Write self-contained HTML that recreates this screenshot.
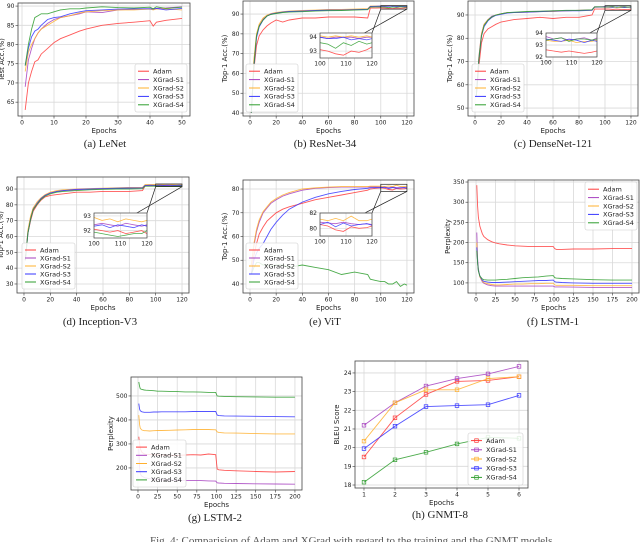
<!DOCTYPE html>
<html><head><meta charset="utf-8"><style>
html,body{margin:0;padding:0;background:#fff;width:640px;height:542px;overflow:hidden}
svg{display:block}
text{font-family:"DejaVu Sans","Liberation Sans",sans-serif}
.cap{font-family:"Liberation Serif",serif;font-size:11px}
</style></head><body>
<svg id="fig" width="640" height="542" xmlns="http://www.w3.org/2000/svg"></svg>
<script>
const seriesNames=["Adam","XGrad-S1","XGrad-S2","XGrad-S3","XGrad-S4"];
const colors=["#ff3b3b","#a63fbf","#ffb02e","#3535ff","#2e9e2e"];
// LeNet
const epochsA=[1,2,3,4,5,6,8,10,12,15,18,20,25,30,35,40,41,42,45,50];
const adamA=[63,70,73,75.5,76,77.5,79,80.5,81.5,82.5,83.5,84,85,85.5,85.8,86.2,84.8,85.8,86.3,86.8];
const s1A=[69,76,79,81.5,83,84,85.5,86.5,87,87.5,88,88.5,88.3,89,89.2,89.3,89.2,89.4,89.5,89.8];
const s2A=[73,78,80,81.5,83,84,85,86,87,87.5,88.2,88.5,88.8,89,89,89.2,89,89.2,89.3,89];
const s3A=[74.5,79,82,83.5,84,85,86.5,87,87.2,88,88.5,88.8,89,89.2,89.3,89.3,89.2,89.4,89,89.4];
const s4A=[74.5,80,84,87,87.5,88,88,88.5,89,89.3,89.3,89.5,89.8,89.6,89.5,89.7,89.3,89.8,89.4,89.7];
// shared epochs for 120-epoch runs
const epochsB=[1,3,5,7,10,13,16,20,25,30,40,50,60,70,80,90,92,96,100,103,106,109,112,115,118,120];
const adamB=[40,62,74,79,82,84,85.5,87,86,87,88,88,88.5,88.5,88.5,88,93,93,93.1,93,92.8,92.7,93,92.9,93.1,93.3];
const s1B=[40,66,79,84,87.5,89,90,90.5,91,91.3,91.5,91.8,92,92,92.3,92.5,93.8,93.9,94,93.9,94,94,94,93.9,94,94];
const s2B=[40,67,80,85,88,89.5,90.3,90.8,91.2,91.5,91.8,92,92.3,92.3,92.5,92.7,94,94,94.1,94,94.1,94,94.1,94,94.1,94];
const s3B=[40,63,78,83.5,87,89,90,90.5,91,91.3,91.5,91.8,92,92,92.2,92.4,93.8,93.9,94,93.9,93.9,94,93.8,93.9,93.8,93.9];
const s4B=[40,64,79,84,87,89,89.8,90.3,90.8,91,91.2,91.5,91.7,91.8,92,92.2,93.5,93.6,93.6,93.5,93.2,93.6,93.4,93.7,93.5,93.6];
const adamC=[55,68,78,82,84,85,86,87,87.5,88,88.5,89,88.5,89,89,90,92.5,92.5,92.6,92.5,92.4,92.5,92.4,92.3,92.4,92.5];
const s1C=[55,72,82,86,88,89.5,90,90.5,91,91,91.3,91.5,91.8,91.8,92,92.2,93.5,93.5,93.7,93.5,93.6,93.4,93.5,93.6,93.4,93.6];
const s2C=[55,72,82,86,88,89,90,90.5,91,91,91.2,91.5,91.5,91.8,92,92,93.3,93.4,93.4,93.3,93.3,93.4,93.2,93.3,93.3,93.4];
const s3C=[55,71,81,85,87.5,89,89.8,90.3,90.8,91,91.2,91.4,91.6,91.8,91.8,92,93.4,93.4,93.5,93.4,93.3,93.5,93.4,93.2,93.4,93.3];
const s4C=[55,71,81,85.5,87.8,89.2,90,90.5,91,91.2,91.5,91.6,91.8,92,92,92.2,93.5,93.5,93.4,93.5,93.6,93.3,93.5,93.5,93.4,93.5];
const adamD=[45,62,70,76,80,83,85,86,86.5,87,88,88,88.5,88.5,88.5,89,92,92,92.1,92,91.9,92,91.8,91.9,92,91.8];
const s1D=[45,63,72,78,81,84,86,87.5,88.5,89,89.5,90,90,90.3,90.5,90.8,92.3,92.4,92.4,92.5,92.4,92.3,92.5,92.4,92.3,92.4];
const s2D=[45,64,73,78,82,84.5,86.5,88,89,89.5,90,90.3,90.5,90.8,91,91,92.8,92.8,92.9,92.7,92.8,92.6,92.8,92.7,92.6,92.7];
const s3D=[45,62,71,77,81,84,86,87.5,88.5,89,89.8,90,90.3,90.5,90.7,90.8,92.3,92.4,92.3,92.4,92.2,92.4,92.3,92.2,92.4,92.3];
const s4D=[45,62,71,77,80.5,83.5,85.5,87,88,88.5,89,89.5,89.8,90,90,90.2,91.8,91.8,91.9,91.8,91.7,91.6,91.7,91.8,91.8,92];
const adamE=[44,52,57,61,64,66.5,68,70,71.5,72.5,74,75.5,76.5,77.5,78.5,79.5,80,80.3,80.5,80.3,79.8,79.6,80.2,80,80.1,80.3];
const s1E=[48,56,62,66,70,72,74,75.5,77,78,79.5,80.3,80.6,80.8,80.8,80.8,80.9,80.9,80.8,80.7,80.6,80.8,80.6,80.5,80.6,80.5];
const s2E=[48,57,63,67,70.5,72.5,74.5,76,77.5,78.5,80,80.5,80.8,81,81,81,81.2,81.2,81.2,81,81.3,81,81.6,81,81,81.2];
const s3E=[44,50,53,55,57,60,63,66,69,71.5,74.5,76.5,78,79,79.8,80.3,80.5,80.6,80.5,80.8,80.2,80.7,80.3,80.5,80.6,80.4];
const s4E=[44,47,49,49,48,48,47.5,48,48,47,48,47,46,44,45,44,42,41.5,41,41,40,40,41,39,40,39.5];
// LSTM
const epochsF=[1,2,3,5,8,10,15,20,25,30,40,50,60,70,80,90,99,101,103,110,125,150,175,200];
const adamF=[342,290,262,240,222,215,207,202,199,197,194,192,191,190,190,190,190,185,183,183,184,184,185,185];
const s1F=[225,160,135,115,103,99,95,93,92,92,92,92,92,92,92,92,92,90,90,90,89.5,89,89,89];
const s2F=[200,150,130,115,105,101,98,96,95,95,96,97,97,98,98,99,99,95,94,94,94,93,93,93];
const s3F=[188,150,130,117,107,104,102,101,101,101,102,103,104,105,106,106,107,103,102,101,100,99,99,99];
const s4F=[180,150,130,117,110,108,107,107,107,108,109,111,113,114,115,117,118,113,112,111,110,108,107,107];
const adamG=[330,300,280,265,258,257,256,255,254,254,253,252,254,255,254,258,255,195,192,190,188,185,183,185];
const s1G=[280,200,175,165,160,158,155,153,152,150,150,148,148,147,147,146,145,138,137,136,135,134,133,132];
const s2G=[420,380,365,358,355,355,354,355,356,356,357,358,359,360,360,360,359,350,348,346,345,343,342,342];
const s3G=[468,445,438,434,432,432,432,433,433,434,434,434,434,435,435,435,435,420,418,417,416,415,414,413];
const s4G=[558,540,530,527,525,524,523,522,520,520,519,518,517,517,516,515,515,500,499,498,497,496,495,495];
// GNMT
const epochsH=[1,2,3,4,5,6];
const adamH=[19.5,21.6,22.85,23.55,23.6,23.8];
const s1H=[21.2,22.4,23.3,23.7,23.95,24.35];
const s2H=[20.35,22.4,23.1,23.1,23.7,23.8];
const s3H=[19.95,21.15,22.2,22.25,22.3,22.8];
const s4H=[18.15,19.35,19.75,20.2,20.55,20.5];
const ticks120=[0,20,40,60,80,100,120];
const ticks200=[0,25,50,75,100,125,150,175,200];

const NS="http://www.w3.org/2000/svg";
const svg=document.getElementById('fig');
function mk(tag,attrs,parent){const e=document.createElementNS(NS,tag);for(const k in attrs)e.setAttribute(k,attrs[k]);(parent||svg).appendChild(e);return e;}
function txt(s,x,y,size,anchor,parent,extra){const t=mk('text',Object.assign({x:x,y:y,'font-size':size,'text-anchor':anchor||'middle',fill:'#222'},extra||{}),parent);t.textContent=s;return t;}

function panel(c){
  const g=mk('g',{});
  
  
  const [bx,by,bw,bh]=c.box;
  const sx=v=>bx+(v-c.xd[0])/(c.xd[1]-c.xd[0])*bw;
  const sy=v=>by+bh-(v-c.yd[0])/(c.yd[1]-c.yd[0])*bh;
  // grid
  c.xt.forEach(t=>{mk('line',{x1:sx(t),x2:sx(t),y1:by,y2:by+bh,stroke:'#d9d9d9','stroke-width':0.8},g);
    mk('line',{x1:sx(t),x2:sx(t),y1:by+bh,y2:by+bh+2.5,stroke:'#333','stroke-width':0.6},g);
    const l=txt(String(t),sx(t),by+bh+8.5,6,'middle',g);});
  c.yt.forEach(t=>{mk('line',{x1:bx,x2:bx+bw,y1:sy(t),y2:sy(t),stroke:'#d9d9d9','stroke-width':0.8},g);
    mk('line',{x1:bx-2.5,x2:bx,y1:sy(t),y2:sy(t),stroke:'#333','stroke-width':0.6},g);
    const l=txt(String(t),bx-3.5,sy(t)+2,6,'end',g);});
  // series
  const clipId='clip-'+c.id;
  const cp=mk('clipPath',{id:clipId},g);mk('rect',{x:bx,y:by,width:bw,height:bh},cp);
  const sg=mk('g',{'clip-path':'url(#'+clipId+')'},g);
  c.series.forEach((ys,i)=>{
    const pts=c.x.map((xv,j)=>sx(xv).toFixed(1)+','+sy(ys[j]).toFixed(1)).join(' ');
    const pl=mk('polyline',{points:pts,fill:'none',stroke:colors[i],'stroke-width':c.markers?0.9:0.9,'stroke-opacity':0.85},sg);
    
    
    if(c.markers){c.x.forEach((xv,j)=>{const r=mk('rect',{x:sx(xv)-1.8,y:sy(ys[j])-1.8,width:3.6,height:3.6,fill:'none',stroke:colors[i],'stroke-width':0.7},sg);
      });}
  });
  // frame
  const fr=mk('rect',{x:bx,y:by,width:bw,height:bh,fill:'none',stroke:'#444','stroke-width':0.8},g);
  
  // labels
  const xl=txt('Epochs',bx+bw/2,by+bh+17,7,'middle',g);
  const yx=bx-c.ylOff, yy=by+bh/2;
  const yl=txt(c.ylabel,yx,yy,7,'middle',g,{transform:'rotate(-90 '+yx+' '+yy+')'});
  // inset
  if(c.inset){
    const I=c.inset;const [ix,iy,iw,ih]=I.box;
    const isx=v=>ix+(v-100)/20*iw; const isy=v=>iy+ih-(v-I.yd[0])/(I.yd[1]-I.yd[0])*ih;
    // zoom rect & connectors
    const rx1=sx(100),rx2=sx(120),ry1=sy(I.yd[1]),ry2=sy(I.yd[0]);
    mk('rect',{x:rx1,y:ry1,width:rx2-rx1,height:ry2-ry1,fill:'none',stroke:'#222','stroke-width':0.7},g);
    mk('line',{x1:ix+iw,y1:iy,x2:rx1,y2:ry2,stroke:'#222','stroke-width':0.7},g);
    mk('line',{x1:ix,y1:iy+ih,x2:rx2,y2:ry2,stroke:'#222','stroke-width':0.7},g);
    const ig=mk('g',{},g);
    mk('rect',{x:ix,y:iy,width:iw,height:ih,fill:'#fff'},ig);
    [100,110,120].forEach(t=>{mk('line',{x1:isx(t),x2:isx(t),y1:iy,y2:iy+ih,stroke:'#d9d9d9','stroke-width':0.7},ig);txt(String(t),isx(t),iy+ih+7.5,6,'middle',ig);});
    I.yt.forEach(t=>{mk('line',{x1:ix,x2:ix+iw,y1:isy(t),y2:isy(t),stroke:'#d9d9d9','stroke-width':0.7},ig);txt(String(t),ix-3,isy(t)+2,6,'end',ig);});
    const cid='iclip-'+c.id;const icp=mk('clipPath',{id:cid},ig);mk('rect',{x:ix,y:iy,width:iw,height:ih},icp);
    const isg=mk('g',{'clip-path':'url(#'+cid+')'},ig);
    c.series.forEach((ys,i)=>{const pts=[];c.x.forEach((xv,j)=>{if(xv>=96)pts.push(isx(xv).toFixed(1)+','+isy(ys[j]).toFixed(1));});
      mk('polyline',{points:pts.join(' '),fill:'none',stroke:colors[i],'stroke-width':0.8,'stroke-opacity':0.85},isg);});
    mk('rect',{x:ix,y:iy,width:iw,height:ih,fill:'none',stroke:'#444','stroke-width':0.7},ig);
  }
  // legend
  const [lx,ly,lw,lh]=c.legend;
  const lg=mk('g',{},g);
  mk('rect',{x:lx,y:ly,width:lw,height:lh,rx:2,fill:'#fff','fill-opacity':0.85,stroke:'#ccc','stroke-width':0.6},lg);
  const step=(lh-6)/5;
  seriesNames.forEach((n,i)=>{const yy2=ly+3+step*(i+0.5);
    const e=mk('g',{},lg);
    mk('line',{x1:lx+3,x2:lx+14,y1:yy2,y2:yy2,stroke:colors[i],'stroke-width':1},e);
    if(c.markers)mk('rect',{x:lx+6.7,y:yy2-1.8,width:3.6,height:3.6,fill:'none',stroke:colors[i],'stroke-width':0.7},e);
    txt(n,lx+18,yy2+2.3,6.5,'start',e);});
  // caption
  const cap=txt(c.caption,c.capPos[0],c.capPos[1],11,'middle',g,{class:'cap'});
}

panel({id:'lenet',box:[18,3,172,113],xd:[-1.25,52.5],yd:[61.4,90.8],xt:[0,10,20,30,40,50],yt:[65,70,75,80,85,90],
  x:epochsA,series:[adamA,s1A,s2A,s3A,s4A],ylabel:'Test Acc.(%)',ylOff:14,legend:[135,64,52,48],caption:'(a)  LeNet',capPos:[105,147]});
panel({id:'resnet',box:[243,1,171,115],xd:[-5.35,125.4],yd:[38.5,96.6],xt:ticks120,yt:[40,50,60,70,80,90],
  x:epochsB,series:[adamB,s1B,s2B,s3B,s4B],ylabel:'Top-1 Acc.(%)',ylOff:16,legend:[246,64,52,48],caption:'(b)  ResNet-34',capPos:[325,147],
  inset:{box:[320,33,52,25],yd:[92.5,94.3],yt:[93,94]}});
panel({id:'densenet',box:[468,1,170,115],xd:[-5.4,125.4],yd:[46.6,96],xt:ticks120,yt:[50,60,70,80,90],
  x:epochsB,series:[adamC,s1C,s2C,s3C,s4C],ylabel:'Top-1 Acc.(%)',ylOff:16,legend:[472,64,52,48],caption:'(c)  DenseNet-121',capPos:[553,147],
  inset:{box:[546,33,51,24],yd:[92,94],yt:[92,93,94]}});
panel({id:'inception',box:[17,177,172,116],xd:[-5.3,125.3],yd:[24.3,97.6],xt:ticks120,yt:[30,40,50,60,70,80,90],
  x:epochsB,series:[adamD,s1D,s2D,s3D,s4D],ylabel:'Top-1 Acc.(%)',ylOff:14,legend:[22,243,53,46],caption:'(d)  Inception-V3',capPos:[100,325],
  inset:{box:[94,213,53,25],yd:[91.5,93.2],yt:[92,93]}});
panel({id:'vit',box:[243,180,171,113],xd:[-5.35,125.4],yd:[36.2,83.8],xt:ticks120,yt:[40,50,60,70,80],
  x:epochsB,series:[adamE,s1E,s2E,s3E,s4E],ylabel:'Top-1 Acc.(%)',ylOff:16,legend:[246,243,52,46],caption:'(e)  ViT',capPos:[325,325],
  inset:{box:[320,213,52,23],yd:[79,82],yt:[80,82]}});
panel({id:'lstm1',box:[468,180,171,113],xd:[-10.3,209],yd:[75,355],xt:ticks200,yt:[100,150,200,250,300,350],
  x:epochsF,series:[adamF,s1F,s2F,s3F,s4F],ylabel:'Perplexity',ylOff:18,legend:[585,182,52,48],caption:'(f)  LSTM-1',capPos:[553,325]});
panel({id:'lstm2',box:[131,377,171,113],xd:[-8.9,209],yd:[108,579],xt:ticks200,yt:[200,300,400,500],
  x:epochsF,series:[adamG,s1G,s2G,s3G,s4G],ylabel:'Perplexity',ylOff:18,legend:[133,440,53,47],caption:'(g)  LSTM-2',capPos:[215,521]});
panel({id:'gnmt',box:[355,361,173,127],xd:[0.71,6.29],yd:[17.84,24.64],xt:[1,2,3,4,5,6],yt:[18,19,20,21,22,23,24],markers:true,
  x:epochsH,series:[adamH,s1H,s2H,s3H,s4H],ylabel:'BLEU Score',ylOff:16,legend:[468,433,55,52],caption:'(h)  GNMT-8',capPos:[440,518]});
const fc=txt('Fig. 4: Comparision of Adam and XGrad with regard to the training and the GNMT models.',150,544,11,'start',svg,{class:'cap',fill:'#555'});


</script>
</body></html>
